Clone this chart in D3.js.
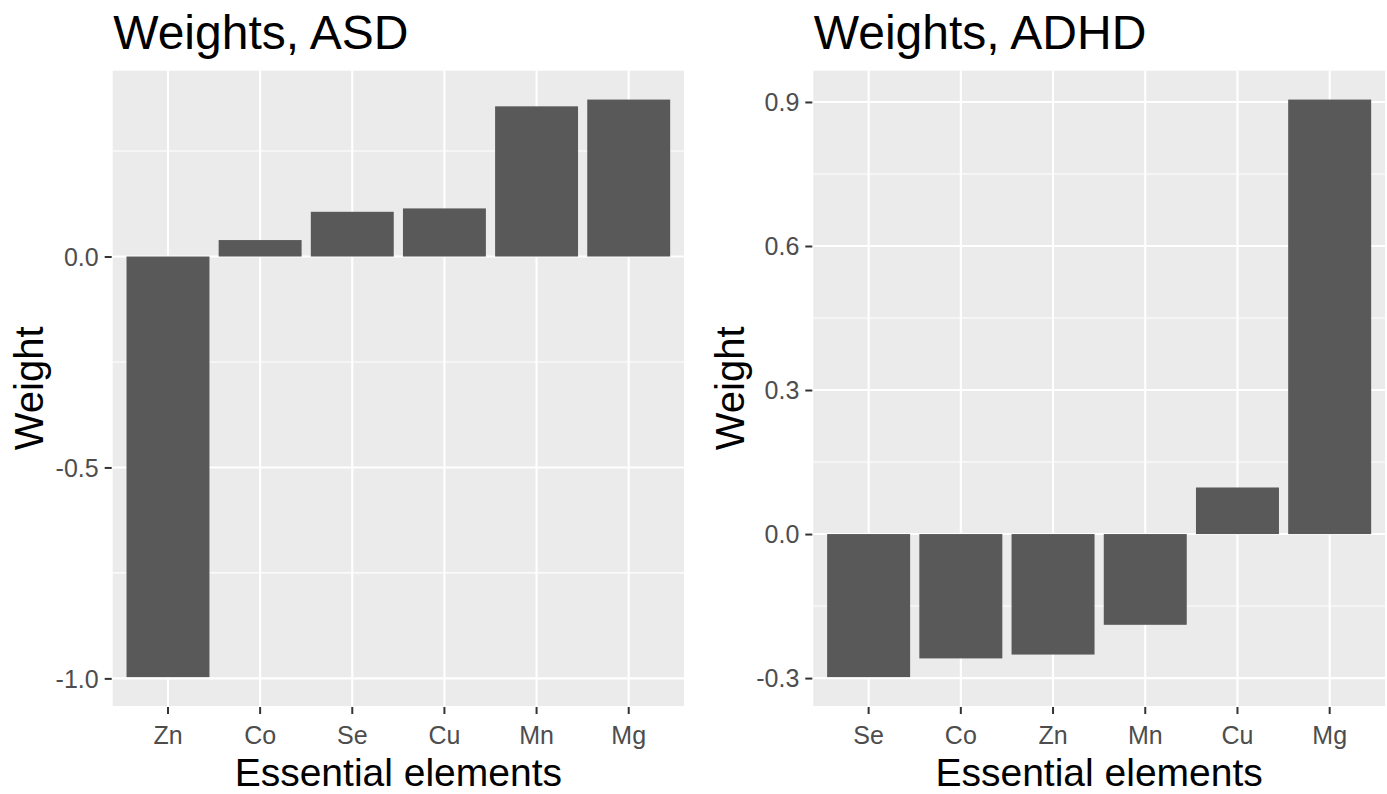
<!DOCTYPE html>
<html>
<head>
<meta charset="utf-8">
<script src="https://cdn.jsdelivr.net/npm/d3@7"></script>
<style>
  html, body { margin: 0; padding: 0; background: #ffffff; }
  svg { display: block; }
  .tick-label { font-family: "Liberation Sans Narrow", "Arial Narrow", "Liberation Sans", Arial, sans-serif; font-stretch: condensed; fill: #4D4D4D; }
  .title, .axis-title { font-family: "Liberation Sans", Arial, sans-serif; fill: #000000; }
</style>
</head>
<body>
<svg id="chart" width="1387" height="794"></svg>
<script>
// ---- Data ----
const asdCategories = ["Zn", "Co", "Se", "Cu", "Mn", "Mg"];
const asdValues = [-0.997, 0.039, 0.106, 0.114, 0.356, 0.372];
const asdTicks = [-1.0, -0.5, 0.0];
const asdMinorTicks = [-0.75, -0.25, 0.25];

const adhdCategories = ["Se", "Co", "Zn", "Mn", "Cu", "Mg"];
const adhdValues = [-0.298, -0.259, -0.251, -0.189, 0.097, 0.905];
const adhdTicks = [-0.3, 0.0, 0.3, 0.6, 0.9];
const adhdMinorTicks = [-0.15, 0.15, 0.45, 0.75];

const titles = ["Weights, ASD", "Weights, ADHD"];
const xTitle = "Essential elements";
const yTitle = "Weight";

// ---- Layout ----
const svg = d3.select("#chart");
const panels = [
  { cats: asdCategories, vals: asdValues, ticks: asdTicks, minor: asdMinorTicks, title: titles[0],
    x0: 112.7, x1: 684, y0: 70.7, y1: 706, yTitleX: 43 },
  { cats: adhdCategories, vals: adhdValues, ticks: adhdTicks, minor: adhdMinorTicks, title: titles[1],
    x0: 813.3, x1: 1385, y0: 70.7, y1: 706, yTitleX: 744 }
];

panels.forEach(p => {
  const n = p.cats.length;
  // ggplot-like discrete scale: positions 1..n, limits [0.4, n+0.6]
  const xc = d3.scaleLinear().domain([0.4, n + 0.6]).range([p.x0, p.x1]);
  const mn = Math.min(0, d3.min(p.vals)), mx = Math.max(0, d3.max(p.vals));
  const pad = (mx - mn) * 0.05;
  const y = d3.scaleLinear().domain([mn - pad, mx + pad]).range([p.y1, p.y0]);

  const g = svg.append("g");
  // panel background
  g.append("rect").attr("x", p.x0).attr("y", p.y0)
    .attr("width", p.x1 - p.x0).attr("height", p.y1 - p.y0).attr("fill", "#EBEBEB");

  // minor gridlines
  g.selectAll(".minor").data(p.minor).enter().append("line")
    .attr("x1", p.x0).attr("x2", p.x1)
    .attr("y1", d => y(d)).attr("y2", d => y(d))
    .attr("stroke", "#ffffff").attr("stroke-width", 1.1);
  // major horizontal
  g.selectAll(".majorh").data(p.ticks).enter().append("line")
    .attr("x1", p.x0).attr("x2", p.x1)
    .attr("y1", d => y(d)).attr("y2", d => y(d))
    .attr("stroke", "#ffffff").attr("stroke-width", 2.1);
  // major vertical
  g.selectAll(".majorv").data(p.cats).enter().append("line")
    .attr("x1", (d, i) => xc(i + 1)).attr("x2", (d, i) => xc(i + 1))
    .attr("y1", p.y0).attr("y2", p.y1)
    .attr("stroke", "#ffffff").attr("stroke-width", 2.1);

  // bars
  g.selectAll(".bar").data(p.vals).enter().append("rect")
    .attr("x", (d, i) => xc(i + 1 - 0.45))
    .attr("width", (d, i) => xc(i + 1 + 0.45) - xc(i + 1 - 0.45))
    .attr("y", d => y(Math.max(0, d)))
    .attr("height", d => Math.abs(y(d) - y(0)))
    .attr("fill", "#595959");

  // y axis ticks & labels
  const yAxis = d3.axisLeft(y).tickValues(p.ticks).tickSize(7).tickPadding(6)
    .tickFormat(d3.format(".1f"));
  const ya = g.append("g").attr("transform", `translate(${p.x0 - 1},0)`).call(yAxis);
  ya.select(".domain").remove();
  ya.selectAll(".tick line").attr("stroke", "#333333").attr("stroke-width", 2);
  ya.selectAll(".tick text").attr("class", "tick-label").attr("font-size", 25)
    .attr("dy", "0.35em").text(d => d3.format(".1f")(d).replace("−", "-"));

  // x axis ticks & labels
  const xb = d3.scaleBand().domain(p.cats).range([xc(0.5), xc(n + 0.5)]).padding(0);
  const xAxis = d3.axisBottom(xb).tickSize(7).tickPadding(12);
  const xa = g.append("g").attr("transform", `translate(0,${p.y1 + 1})`).call(xAxis);
  xa.select(".domain").remove();
  xa.selectAll(".tick line").attr("stroke", "#333333").attr("stroke-width", 2);
  xa.selectAll(".tick text").attr("class", "tick-label").attr("font-size", 25).attr("dy", "0.71em");

  // titles
  g.append("text").attr("class", "title").attr("x", p.x0 + 0.5).attr("y", 49)
    .attr("font-size", 48).text(p.title);
  g.append("text").attr("class", "axis-title").attr("x", (p.x0 + p.x1) / 2).attr("y", 786)
    .attr("text-anchor", "middle").attr("font-size", 39).text(xTitle);
  g.append("text").attr("class", "axis-title")
    .attr("transform", `translate(${p.yTitleX},${(p.y0 + p.y1) / 2}) rotate(-90)`)
    .attr("text-anchor", "middle").attr("font-size", 40).text(yTitle);
});
</script>
</body>
</html>
